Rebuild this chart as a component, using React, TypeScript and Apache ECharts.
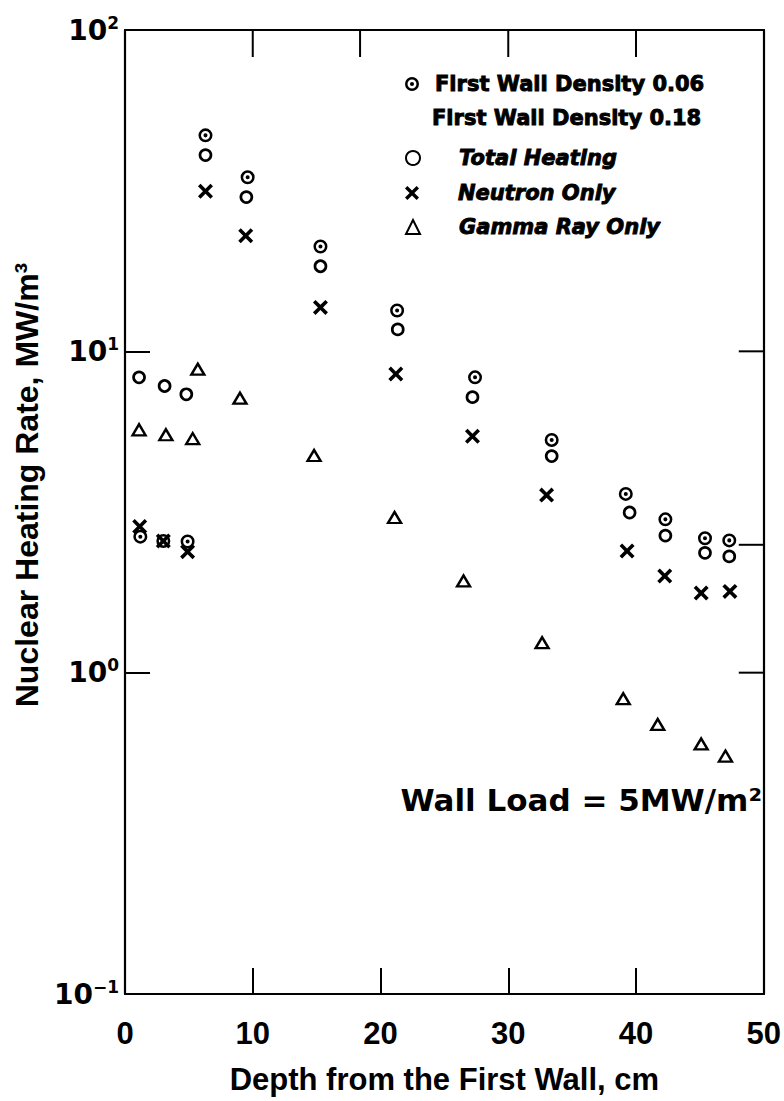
import React, { useEffect, useRef } from "react";
import * as echarts from "echarts";

// ---- data ----
const topTicks = [10, 18.4, 30, 40];
const rightTicks = [1, 2.5, 10];
const yTickValues = [0.1, 1, 10, 100];
const yTickExponents = ["\u22121", "0", "1", "2"];

const fw006: number[][] = [
  [1.2, 2.65], [3.0, 2.57], [4.9, 2.56], [6.3, 47], [9.6, 34.8], [15.3, 21.2],
  [21.3, 13.4], [27.4, 8.3], [33.4, 5.3], [39.2, 3.6], [42.3, 3.0], [45.4, 2.62], [47.3, 2.58],
];
const totalHeating: number[][] = [
  [1.1, 8.3], [3.1, 7.8], [4.8, 7.35], [6.3, 40.8], [9.5, 30.2], [15.3, 18.4],
  [21.35, 11.7], [27.2, 7.2], [33.4, 4.72], [39.5, 3.15], [42.3, 2.67], [45.4, 2.36], [47.3, 2.3],
];
const neutronOnly: number[][] = [
  [1.15, 2.85], [3.0, 2.57], [4.9, 2.38], [6.3, 31.5], [9.45, 22.9], [15.3, 13.7],
  [21.2, 8.5], [27.2, 5.44], [33.0, 3.57], [39.3, 2.39], [42.25, 2.0], [45.1, 1.77], [47.35, 1.79],
];
const gammaOnly: number[][] = [
  [1.1, 5.7], [3.2, 5.5], [5.3, 5.35], [5.7, 8.8], [9.0, 7.15], [14.8, 4.74],
  [21.1, 3.04], [26.5, 1.93], [32.65, 1.24], [39.0, 0.83], [41.7, 0.69], [45.1, 0.6], [47.0, 0.55],
];

const S_FW = "First Wall Density 0.06";
const S_TOT = "Total Heating";
const S_NEU = "Neutron Only";
const S_GAM = "Gamma Ray Only";

const RING_DOT =
  "path://M0,10A10,10,0,1,1,20,10A10,10,0,1,1,0,10ZM3.6,10A6.4,6.4,0,1,0,16.4,10A6.4,6.4,0,1,0,3.6,10ZM7.1,10A2.9,2.9,0,1,1,12.9,10A2.9,2.9,0,1,1,7.1,10Z";
const CROSS =
  "path://M0,1.7L1.7,0L5,3.3L8.3,0L10,1.7L6.7,5L10,8.3L8.3,10L5,6.7L1.7,10L0,8.3L3.3,5Z";

const BLACK = "#000";
const LEG_FONT = "DejaVu Sans";

function legendItem(name: string, left: number, top: number, pad: number, italic: boolean) {
  return {
    data: [name],
    left,
    top,
    orient: "horizontal",
    padding: 0,
    itemWidth: 14,
    itemHeight: 14,
    selectedMode: false,
    textStyle: {
      color: BLACK,
      fontFamily: LEG_FONT,
      fontWeight: "bold",
      fontStyle: italic ? "italic" : "normal",
      fontSize: 21,
      lineHeight: 24,
      textBorderColor: BLACK,
      textBorderWidth: 0.9,
      padding: [0, 0, 0, pad],
    },
  };
}

export default function App() {
  const ref = useRef<HTMLDivElement>(null);
  useEffect(() => {
    document.body.style.margin = "0";
    const chart = echarts.init(ref.current!, null, { renderer: "svg" });
    const axisLineStyle = { color: BLACK, width: 2.2 };
    const option: any = {
      animation: false,
      backgroundColor: "#fff",
      grid: { left: 125, right: 20, top: 30, bottom: 107 },
      legend: [
        legendItem(S_FW, 405, 72, 11, false),
        legendItem(S_TOT, 405, 146, 34, true),
        legendItem(S_NEU, 405, 181, 34, true),
        legendItem(S_GAM, 405, 215, 34, true),
      ],
      graphic: [
        {
          type: "text",
          x: 432,
          y: 118,
          style: {
            text: "First Wall Density 0.18",
            fill: BLACK,
            font: `bold 21px "${LEG_FONT}"`,
            stroke: BLACK,
            lineWidth: 0.9,
            verticalAlign: "middle",
            align: "left",
          },
        },
        {
          type: "text",
          x: 762,
          y: 800,
          style: {
            text: "Wall Load = 5MW/m\u00b2",
            fill: BLACK,
            font: 'bold 31px "DejaVu Sans"',
            verticalAlign: "middle",
            align: "right",
          },
        },
      ],
      xAxis: [
        {
          type: "value",
          position: "bottom",
          min: 0,
          max: 50,
          interval: 10,
          axisLine: { show: true, onZero: false, lineStyle: axisLineStyle },
          axisTick: { show: true, inside: true, length: 26, lineStyle: { color: BLACK, width: 2 } },
          axisLabel: {
            color: BLACK,
            fontFamily: "Liberation Sans",
            fontWeight: "bold",
            fontSize: 31,
            margin: 24,
          },
          splitLine: { show: false },
          name: "Depth from the First Wall, cm",
          nameLocation: "middle",
          nameGap: 70,
          nameTextStyle: {
            color: BLACK,
            fontFamily: "Liberation Sans",
            fontWeight: "bold",
            fontSize: 31,
          },
        },
        {
          type: "value",
          position: "top",
          min: 0,
          max: 50,
          axisLine: { show: true, onZero: false, lineStyle: axisLineStyle },
          axisTick: { show: false },
          axisLabel: { show: false },
          splitLine: { show: false },
        },
      ],
      yAxis: [
        {
          type: "log",
          logBase: 10,
          min: 0.1,
          max: 100,
          position: "left",
          axisLine: { show: true, onZero: false, lineStyle: axisLineStyle },
          axisTick: { show: true, inside: true, length: 25, lineStyle: { color: BLACK, width: 2 } },
          minorTick: { show: false },
          splitLine: { show: false },
          axisLabel: {
            margin: 6,
            formatter: (val: number) => {
              const i = yTickValues.findIndex(
                (v) => Math.abs(Math.log10(v) - Math.log10(val)) < 1e-6
              );
              return `{b|10}{s|${i >= 0 ? yTickExponents[i] : ""}}`;
            },
            rich: {
              b: { fontFamily: "DejaVu Sans", fontWeight: "bold", fontSize: 28, color: BLACK, lineHeight: 32 },
              s: {
                fontFamily: "DejaVu Sans",
                fontWeight: "bold",
                fontSize: 17,
                color: BLACK,
                verticalAlign: "top",
                lineHeight: 18,
              },
            },
          },
          name: "Nuclear Heating Rate, MW/m\u00b3",
          nameLocation: "middle",
          nameGap: 78,
          nameTextStyle: {
            color: BLACK,
            fontFamily: "Liberation Sans",
            fontWeight: "bold",
            fontSize: 32,
            padding: [0, 0, 0, 54],
          },
        },
        {
          type: "log",
          logBase: 10,
          min: 0.1,
          max: 100,
          position: "right",
          axisLine: { show: true, onZero: false, lineStyle: axisLineStyle },
          axisTick: { show: false },
          axisLabel: { show: false },
          splitLine: { show: false },
        },
      ],
      series: [
        {
          name: S_FW,
          type: "scatter",
          data: fw006,
          symbol: RING_DOT,
          symbolSize: 14,
          itemStyle: { color: BLACK, opacity: 1 },
          z: 4,
        },
        {
          name: S_TOT,
          type: "scatter",
          data: totalHeating,
          symbol: "circle",
          symbolSize: 11,
          itemStyle: { color: "#fff", borderColor: BLACK, borderWidth: 2.7, opacity: 1 },
          z: 3,
        },
        {
          name: S_NEU,
          type: "scatter",
          data: neutronOnly,
          symbol: CROSS,
          symbolSize: 15,
          itemStyle: { color: BLACK, opacity: 1 },
          z: 3,
        },
        {
          name: S_GAM,
          type: "scatter",
          data: gammaOnly,
          symbol: "triangle",
          symbolSize: [13, 11],
          itemStyle: { color: "#fff", borderColor: BLACK, borderWidth: 2.4, opacity: 1 },
          z: 3,
        },
        {
          type: "custom",
          name: "topTicks",
          silent: true,
          clip: false,
          data: topTicks.map((v) => [v, 100]),
          encode: { x: 0, y: 1 },
          renderItem: (_p: any, api: any) => {
            const pt = api.coord([api.value(0), api.value(1)]);
            return {
              type: "line",
              shape: { x1: pt[0], y1: pt[1], x2: pt[0], y2: pt[1] + 27 },
              style: { stroke: BLACK, lineWidth: 2 },
            };
          },
        },
        {
          type: "custom",
          name: "rightTicks",
          silent: true,
          clip: false,
          data: rightTicks.map((v) => [50, v]),
          encode: { x: 0, y: 1 },
          renderItem: (_p: any, api: any) => {
            const pt = api.coord([api.value(0), api.value(1)]);
            return {
              type: "line",
              shape: { x1: pt[0], y1: pt[1], x2: pt[0] - 25, y2: pt[1] },
              style: { stroke: BLACK, lineWidth: 2 },
            };
          },
        },
      ],
    };
    chart.setOption(option);
    return () => chart.dispose();
  }, []);
  return <div ref={ref} style={{ width: 784, height: 1101, background: "#fff" }} />;
}
